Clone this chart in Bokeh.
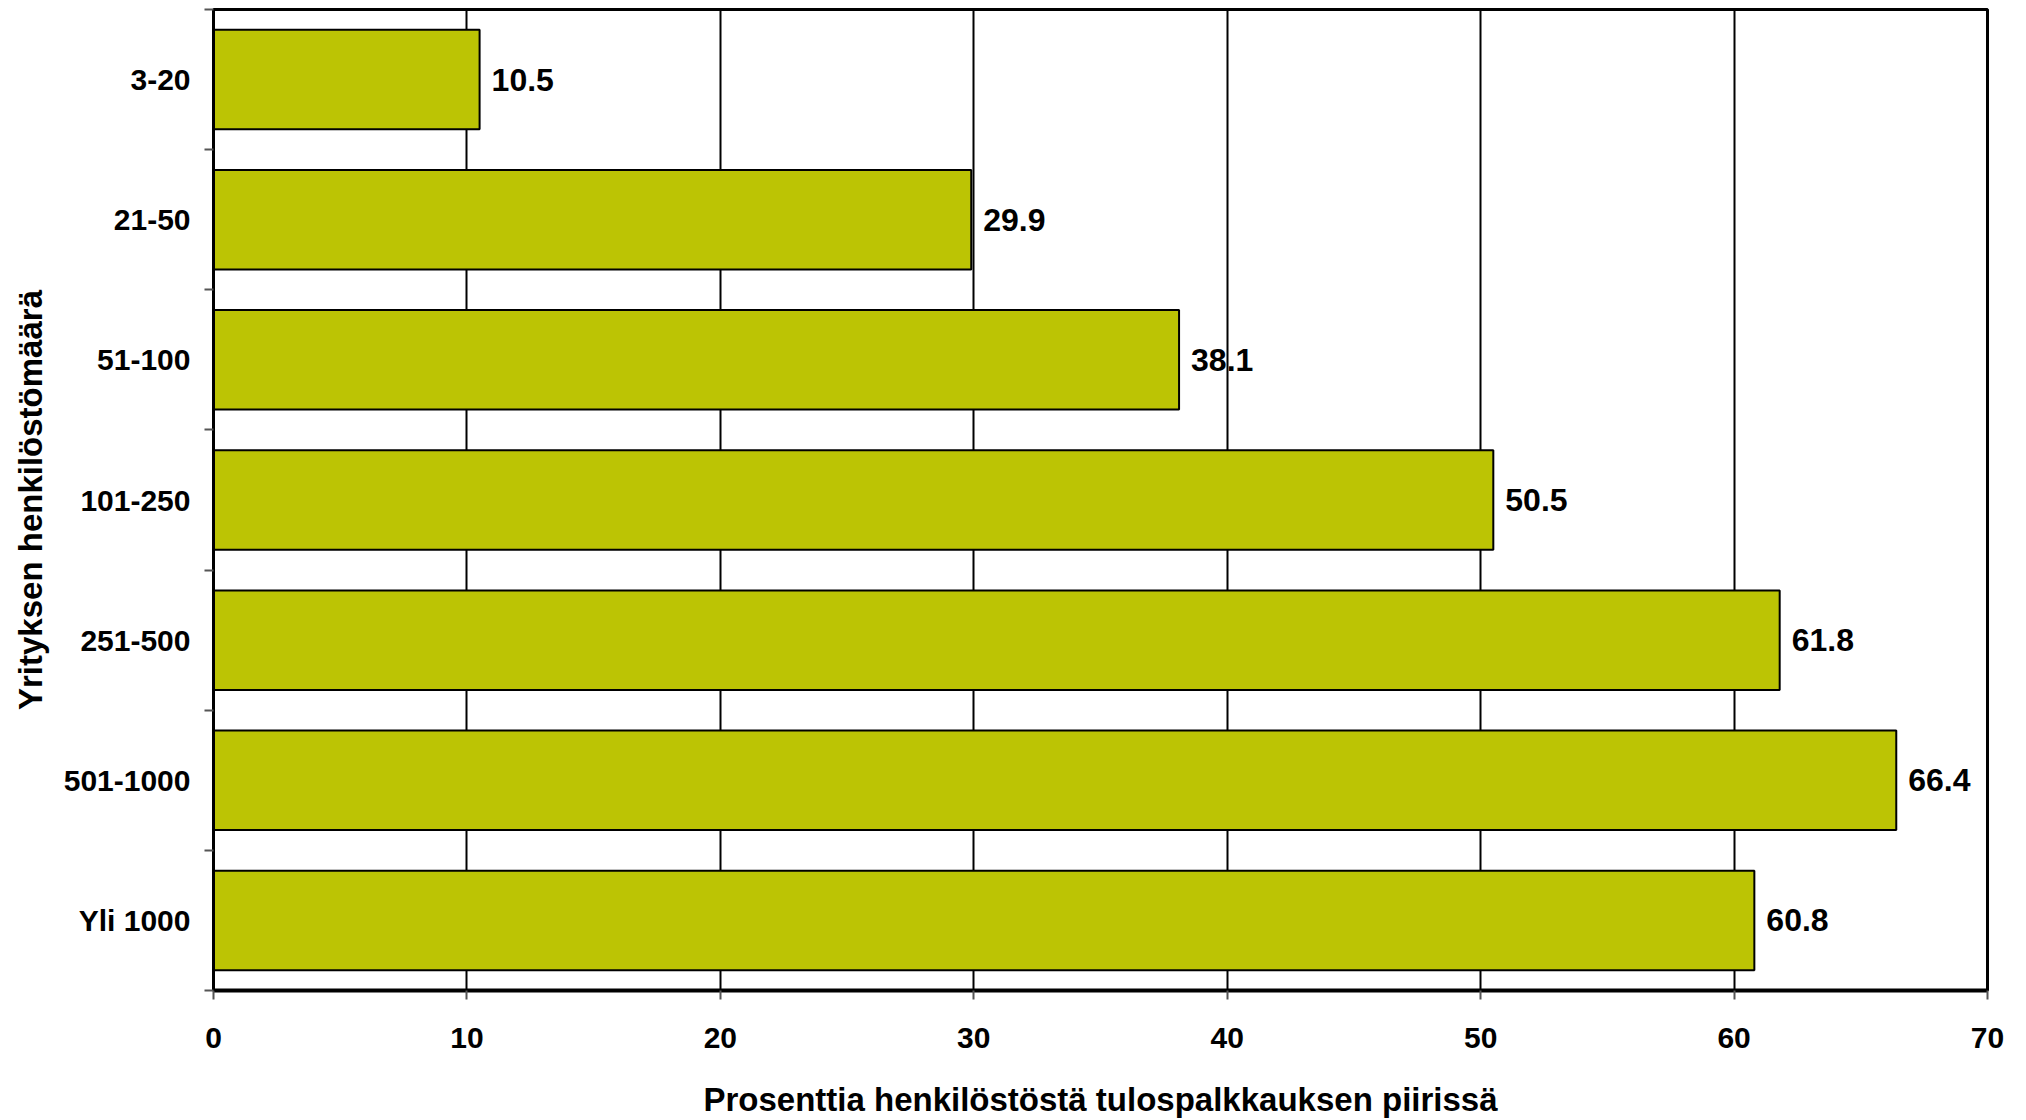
from bokeh.plotting import figure
from bokeh.models import ColumnDataSource, FixedTicker, Range1d
from bokeh.core.properties import value
from bokeh.embed import file_html
from bokeh.resources import INLINE

# Company size groups (top to bottom) and share of staff under performance pay (%)
categories = ["3-20", "21-50", "51-100", "101-250", "251-500", "501-1000", "Yli 1000"]
shares = [10.5, 29.9, 38.1, 50.5, 61.8, 66.4, 60.8]
x_ticks = [0, 10, 20, 30, 40, 50, 60, 70]

FONT = "Liberation Sans"
BAR_COLOR = "#BCC404"

n = len(categories)
# categories are placed on a numeric axis so that ticks can sit between the bands
ypos = [n - i - 0.5 for i in range(n)]
labels = [f"{v:.1f}" for v in shares]

src = ColumnDataSource(dict(y=ypos, share=shares, label=labels, cat=categories))

p = figure(width=2026, height=1120, output_backend="svg", toolbar_location=None,
           x_range=Range1d(0, 70), y_range=Range1d(0, n),
           min_border_left=213, min_border_right=39, min_border_top=9, min_border_bottom=129)

p.background_fill_color = "white"
p.border_fill_color = "white"
p.outline_line_color = "black"
p.outline_line_width = 3

p.hbar(y="y", left=0, right="share", height=0.71, source=src,
       fill_color=BAR_COLOR, line_color="black", line_width=2)

p.text(x="share", y="y", text="label", source=src, x_offset=12,
       text_font=value(FONT), text_font_style="bold", text_font_size="32px",
       text_baseline="middle", text_align="left", text_color="black")

# x axis
p.xaxis.ticker = FixedTicker(ticks=x_ticks)
p.xaxis.axis_line_color = "black"
p.xaxis.axis_line_width = 4
p.xaxis.major_tick_out = 9
p.xaxis.major_tick_in = 0
p.xaxis.major_tick_line_color = "#555555"
p.xaxis.major_tick_line_width = 2
p.xaxis.minor_tick_line_color = None
p.xaxis.major_label_text_font = FONT
p.xaxis.major_label_text_font_style = "bold"
p.xaxis.major_label_text_font_size = "30px"
p.xaxis.major_label_text_color = "black"
p.xaxis.major_label_standoff = 28
p.xaxis.axis_label = "Prosenttia henkilöstöstä tulospalkkauksen piirissä"
p.xaxis.axis_label_text_font = FONT
p.xaxis.axis_label_text_font_style = "bold"
p.xaxis.axis_label_text_font_size = "33px"
p.xaxis.axis_label_text_color = "black"
p.xaxis.axis_label_standoff = 30

# y axis: category names at band centres, ticks at band boundaries
p.yaxis.ticker = FixedTicker(ticks=ypos, minor_ticks=list(range(n + 1)))
p.yaxis.major_label_overrides = {y: c for y, c in zip(ypos, categories)}
p.yaxis.axis_line_color = "black"
p.yaxis.axis_line_width = 3
p.yaxis.major_tick_line_color = None
p.yaxis.minor_tick_out = 9
p.yaxis.minor_tick_in = 0
p.yaxis.minor_tick_line_color = "#555555"
p.yaxis.minor_tick_line_width = 2
p.yaxis.major_label_text_font = FONT
p.yaxis.major_label_text_font_style = "bold"
p.yaxis.major_label_text_font_size = "30px"
p.yaxis.major_label_text_color = "black"
p.yaxis.major_label_standoff = 14
p.yaxis.axis_label = "Yrityksen henkilöstömäärä"
p.yaxis.axis_label_text_font = FONT
p.yaxis.axis_label_text_font_style = "bold"
p.yaxis.axis_label_text_font_size = "33px"
p.yaxis.axis_label_text_color = "black"
p.yaxis.axis_label_standoff = 12

# vertical grid lines only
p.xgrid.grid_line_color = "black"
p.xgrid.grid_line_width = 2
p.xgrid.level = "underlay"
p.ygrid.grid_line_color = None

open("out.html", "w").write(file_html(p, INLINE))
